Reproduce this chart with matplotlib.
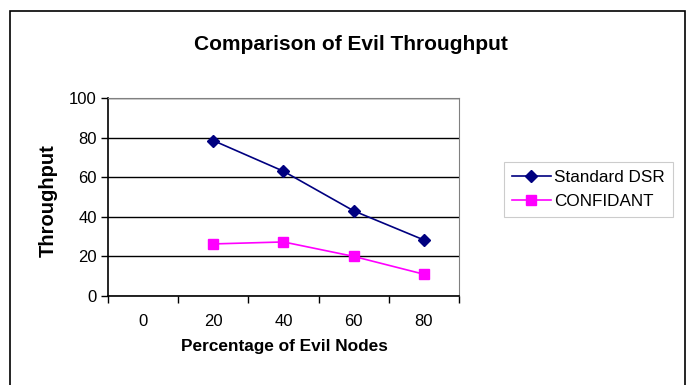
import matplotlib
matplotlib.use("Agg")
import matplotlib.pyplot as plt
from matplotlib.patches import Rectangle

plt.rcParams['font.family'] = ['Liberation Sans', 'DejaVu Sans']

categories = ["0", "20", "40", "60", "80"]
dsr_x = [1, 2, 3, 4]
dsr_values = [78.5, 63, 43, 28.3]
confidant_x = [1, 2, 3, 4]
confidant_values = [26.3, 27.3, 20, 11]

W, H = 697, 385
fig = plt.figure(figsize=(W / 100, H / 100), dpi=100)

# outer chart frame
fig.patches.append(Rectangle((10 / W, -0.1), 675 / W, 1.1 - 11 / H,
                             transform=fig.transFigure, fill=False,
                             edgecolor="black", linewidth=1.2))

ax = fig.add_axes([108 / W, 1 - 296 / H, 351 / W, 198 / H])
ax.plot(dsr_x, dsr_values, color="#000080", marker="D", markersize=6.5,
        linewidth=1.2, label="Standard DSR")
ax.plot(confidant_x, confidant_values, color="#FF00FF", marker="s", markersize=7,
        linewidth=1.2, label="CONFIDANT")

ax.set_xlim(-0.5, 4.5)
ax.set_ylim(0, 100)
ax.set_yticks([0, 20, 40, 60, 80, 100])
ax.set_xticks(range(len(categories)))
ax.set_xticklabels(categories)
ax.set_xticks([i - 0.5 for i in range(len(categories) + 1)], minor=True)
ax.tick_params(axis="x", which="major", length=0, pad=13, labelsize=12)
ax.tick_params(axis="x", which="minor", length=5, width=1, direction="out")
ax.tick_params(axis="y", length=5, width=1, direction="out", pad=3, labelsize=12)
ax.grid(axis="y", color="black", linewidth=1)
ax.set_axisbelow(True)

for side in ["top", "right"]:
    ax.spines[side].set_color("#808080")
for side in ["left", "bottom"]:
    ax.spines[side].set_color("black")
    ax.spines[side].set_linewidth(1.2)

fig.text(351 / W, 1 - 44 / H, "Comparison of Evil Throughput",
         ha="center", va="center", fontsize=15, fontweight="bold")
fig.text(284 / W, 1 - 347 / H, "Percentage of Evil Nodes",
         ha="center", va="center", fontsize=12.4, fontweight="bold")
fig.text(48 / W, 1 - 201 / H, "Throughput", rotation=90,
         ha="center", va="center", fontsize=14.5, fontweight="bold")

leg = fig.legend(loc="upper left", bbox_to_anchor=(504 / W, 1 - 162 / H),
                 fontsize=12.3, frameon=True, fancybox=False,
                 handlelength=2.3, borderpad=0.45, labelspacing=0.55,
                 handletextpad=0.2, borderaxespad=0)
leg.get_frame().set_edgecolor("#c0c0c0")
leg.get_frame().set_linewidth(0.8)

fig.savefig("out.png", dpi=100)
